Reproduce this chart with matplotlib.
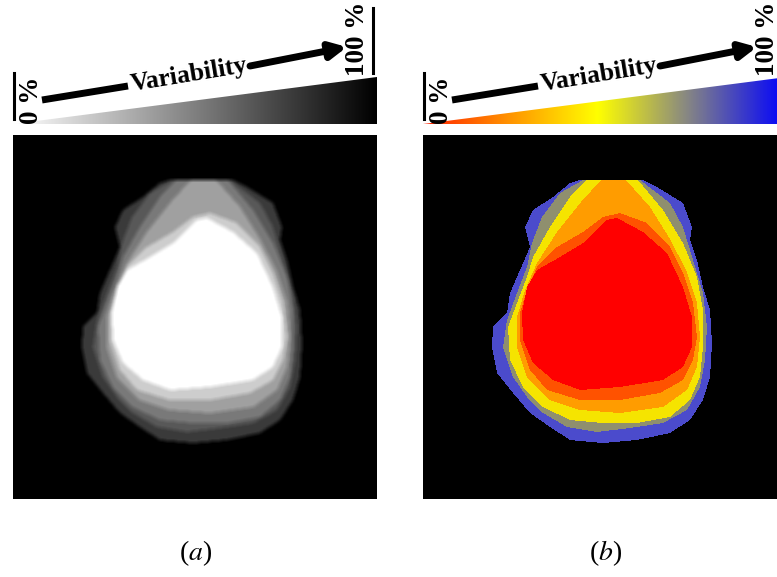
import numpy as np
import matplotlib
matplotlib.use("Agg")
import matplotlib.pyplot as plt
from matplotlib.patches import Polygon
from matplotlib.path import Path
from matplotlib.colors import LinearSegmentedColormap, to_rgb

plt.rcParams['mathtext.fontset'] = 'stix'
plt.rcParams['font.family'] = ['Liberation Serif', 'DejaVu Serif']

# nested variability regions, outermost first (pixel coords inside the square image)
level1 = [(157, 45), (220, 45), (234, 52), (260, 68), (269, 92), (267, 105), (274, 125),
          (280, 152), (287, 175), (289, 208), (287, 242), (280, 265), (267, 285), (247, 298),
          (214, 305), (180, 308), (147, 305), (127, 292), (107, 278), (90, 258), (74, 238),
          (69, 212), (70, 192), (84, 178), (87, 158), (97, 135), (107, 112), (102, 92),
          (110, 75), (130, 62), (147, 48)]
level2 = [(160, 45), (217, 45), (247, 68), (260, 92), (270, 125), (280, 158), (284, 192),
          (282, 225), (277, 252), (264, 275), (240, 288), (207, 293), (174, 297), (144, 292),
          (120, 278), (104, 262), (90, 242), (80, 212), (84, 185), (94, 158), (104, 132),
          (109, 108), (119, 82), (137, 58)]
level3 = [(163, 45), (215, 45), (240, 75), (260, 108), (274, 142), (280, 175), (280, 212),
          (277, 242), (267, 265), (247, 282), (214, 288), (180, 288), (147, 285), (120, 272),
          (100, 252), (87, 225), (85, 192), (94, 168), (104, 142), (110, 122), (127, 92),
          (147, 62)]
level4 = [(178, 45), (203, 45), (227, 72), (247, 104), (264, 137), (274, 168), (277, 202),
          (274, 232), (264, 255), (240, 272), (197, 278), (157, 275), (127, 265), (104, 242),
          (94, 212), (94, 182), (102, 155), (114, 128), (134, 97), (158, 67)]
level5 = [(180, 82), (197, 78), (224, 88), (247, 112), (260, 138), (270, 168), (274, 202),
          (270, 225), (260, 245), (237, 258), (197, 265), (157, 265), (124, 255), (107, 235),
          (97, 205), (97, 178), (104, 155), (114, 132), (134, 112), (160, 97)]
level6 = [(184, 85), (194, 83), (220, 97), (244, 118), (260, 152), (269, 182), (269, 212),
          (260, 232), (240, 245), (197, 252), (157, 255), (130, 245), (110, 228), (100, 205),
          (99, 178), (104, 152), (114, 135), (137, 122), (160, 108), (177, 92)]
levels = [level1, level2, level3, level4, level5, level6]

# background first, then one value per level
gray_values = [0, 58, 88, 122, 160, 205, 255]
level_colors = ['#000000', '#4b4bcc', '#8f8f6e', '#f5e400', '#ff9c00', '#ff5200', '#ff0000']

color_stops = [(0.0, '#ff2000'), (0.22, '#ff8c00'), (0.48, '#ffff00'),
               (0.72, '#8a8a80'), (1.0, '#0000ff')]
panel_labels = ['a', 'b']

W, H = 777, 577
panel_x = [13, 423]
panel_y = 135
N = 364

fig = plt.figure(figsize=(W / 100, H / 100), dpi=100)
ax = fig.add_axes([0, 0, 1, 1])

# rasterise the nested regions
yy, xx = np.mgrid[0:N, 0:N] + 0.5
pts = np.column_stack([xx.ravel(), yy.ravel()])
lev = np.zeros(N * N, dtype=int)
for i, poly in enumerate(levels):
    lev[Path(poly).contains_points(pts)] = i + 1
lev = lev.reshape(N, N)


def blur(a, n):
    k = np.ones(n) / n
    a = np.apply_along_axis(lambda r: np.convolve(r, k, mode='same'), 0, a)
    return np.apply_along_axis(lambda r: np.convolve(r, k, mode='same'), 1, a)


gray_img = blur(np.array(gray_values, dtype=float)[lev] / 255.0, 5)
color_img = np.array([to_rgb(c) for c in level_colors])[lev]
images = [gray_img, color_img]

cmaps = [plt.get_cmap('gray_r'), LinearSegmentedColormap.from_list('var', color_stops)]
grad = np.linspace(0, 1, 256).reshape(1, -1)

for k in range(2):
    x0 = panel_x[k]
    ext = (x0, x0 + N, panel_y + N, panel_y)
    if k == 0:
        ax.imshow(images[k], cmap='gray', vmin=0, vmax=1, extent=ext, interpolation='bilinear')
    else:
        ax.imshow(images[k], extent=ext, interpolation='nearest')

    # gradient wedge
    xr = x0 + N
    tri = Polygon([(x0, 124), (xr, 124), (xr, 77)], closed=True, transform=ax.transData)
    im = ax.imshow(grad, cmap=cmaps[k], extent=(x0, xr, 124, 77), aspect='auto')
    im.set_clip_path(tri)

    # bars
    ax.plot([x0 + 1, x0 + 1], [73, 119], color='black', lw=2.2)
    ax.plot([x0 + 360, x0 + 360], [8, 73], color='black', lw=2.2)

    # arrow with text
    ax.plot([x0 + 29, x0 + 115], [100, 86], color='black', lw=5, solid_capstyle='butt')
    ax.annotate('', xy=(x0 + 334, 47), xytext=(x0 + 237, 66),
                arrowprops=dict(arrowstyle='-|>', lw=5, mutation_scale=24, color='black',
                                shrinkA=0, shrinkB=0))
    ax.text(x0 + 176, 75, 'Variability', rotation=9.4, rotation_mode='anchor',
            ha='center', va='center', fontsize=18.5, fontweight='bold')
    ax.text(x0 + 19, 100, '0 %', rotation=90, ha='center', va='center',
            fontsize=19.5, fontweight='bold')
    ax.text(x0 + 345, 39, '100 %', rotation=90, ha='center', va='center',
            fontsize=19.5, fontweight='bold')

    ax.text(x0 + 183, 553, '($\\mathit{' + panel_labels[k] + '}$)', ha='center', va='center',
            fontsize=20)

ax.set_xlim(0, W)
ax.set_ylim(H, 0)
ax.axis('off')

fig.savefig('out.png', dpi=100)
